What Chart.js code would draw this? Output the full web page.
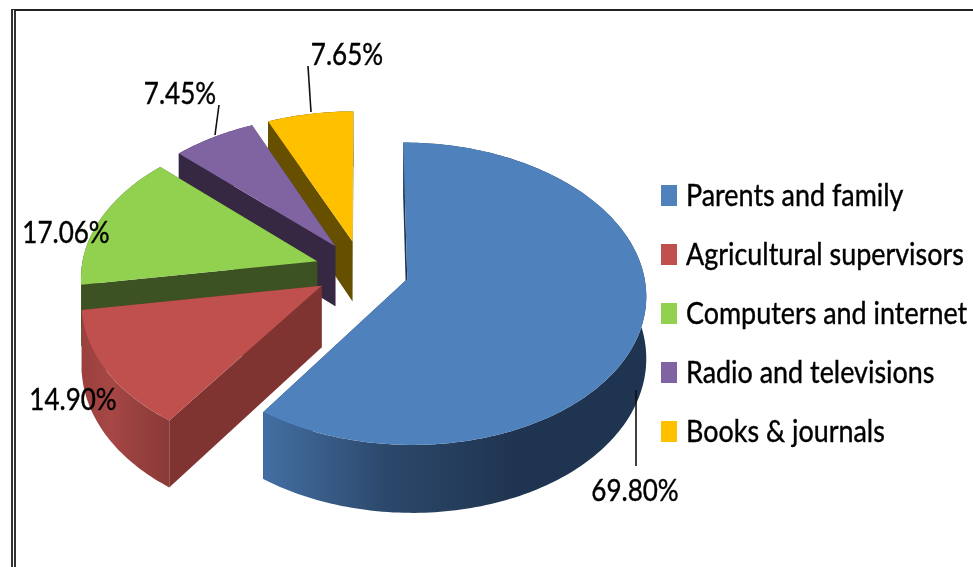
<!DOCTYPE html>
<html>
<head>
<meta charset="utf-8">
<title>Sources of information</title>
<script src="https://cdn.jsdelivr.net/npm/chart.js@4/dist/chart.umd.min.js"></script>
<style>
  html, body { margin: 0; background: #fff; overflow: hidden; }
  .frame { position: absolute; left: 11px; top: 9px; right: 0; bottom: 0; border-top: 2px solid #222; border-left: 5px double #333; }
  canvas { position: absolute; left: 0; top: 0; }
</style>
</head>
<body>
<div class="frame"></div>
<canvas id="chart" width="973" height="567"></canvas>
<script>
const categories = ['Parents and family', 'Agricultural supervisors', 'Computers and internet', 'Radio and televisions', 'Books & journals'];
const percentages = [69.80, 14.90, 17.06, 7.45, 7.65];
const sliceColors = ['#4F81BD', '#C0504D', '#92D050', '#8064A2', '#FFC000'];

// side walls: colour of the cut faces, then left-to-right ramp for the rim
const cutColors = ['#1f3450', '#7f3432', '#3d5222', '#362842', '#665000'];
const rimRamps = [
  ['#436fa3', '#2b4769', '#1f3450', '#1f3450'],
  ['#9a403d', '#a64745', '#96403d', '#8a3a38'],
  ['#3d5222', '#3d5222', '#3d5222', '#3d5222'],
  ['#362842', '#362842', '#362842', '#362842'],
  ['#665000', '#665000', '#665000', '#665000'],
];

// back to front
const paintOrder = [4, 3, 2, 1, 0];

// pie plane seen in perspective
const view = { cx: 362, cy: 270, sx: 236, sy: 148, persp: 0.097, explode: 0.2, depth: 61 };

const textFont = 'Lato, sans-serif';
const textSqueeze = 0.868;
const legendShift = { box: 0, text: 0 };

function project(X, Y) {
  const w = 1 - view.persp * Y;
  return { x: view.cx + view.sx * X / w, y: view.cy + view.sy * Y / w, drop: view.depth / w };
}

function slicePoint(arc, angle, ratio) {
  const mid = (arc.startAngle + arc.endAngle) / 2;
  return project(
    view.explode * Math.cos(mid) + ratio * Math.cos(angle),
    view.explode * Math.sin(mid) + ratio * Math.sin(angle)
  );
}

// lets ArcElement.draw trace its path through the perspective
function withProjectedPath(ctx, arc, paint) {
  const line = CanvasRenderingContext2D.prototype.lineTo;
  const R = arc.outerRadius;
  ctx.arc = function (x, y, r, a, b) {
    if (!(r > 0)) {
      const apex = slicePoint(arc, 0, 0);
      line.call(ctx, apex.x, apex.y);
      return;
    }
    const steps = Math.ceil(Math.abs(b - a) / 0.02);
    for (let i = 0; i <= steps; i++) {
      const p = slicePoint(arc, a + (b - a) * i / steps, r / R);
      line.call(ctx, p.x, p.y);
    }
  };
  ctx.lineTo = function (x, y) {
    if (Number.isNaN(x) || Number.isNaN(y)) return;
    const dx = x - arc.x;
    const dy = y - arc.y;
    const p = slicePoint(arc, Math.atan2(dy, dx), Math.hypot(dx, dy) / R);
    line.call(ctx, p.x, p.y);
  };
  paint();
  delete ctx.arc;
  delete ctx.lineTo;
}

function fillCutFace(ctx, arc, angle, color) {
  const rim = slicePoint(arc, angle, 1);
  const apex = slicePoint(arc, angle, 0);
  ctx.beginPath();
  ctx.moveTo(apex.x, apex.y);
  ctx.lineTo(rim.x, rim.y);
  ctx.lineTo(rim.x, rim.y + rim.drop);
  ctx.lineTo(apex.x, apex.y + apex.drop);
  ctx.closePath();
  ctx.fillStyle = color;
  ctx.fill();
}

function fillRim(ctx, arc, ramp) {
  const steps = Math.ceil((arc.endAngle - arc.startAngle) / 0.02);
  const top = [];
  for (let i = 0; i <= steps; i++) {
    top.push(slicePoint(arc, arc.startAngle + (arc.endAngle - arc.startAngle) * i / steps, 1));
  }
  const xs = top.map((p) => p.x);
  const grad = ctx.createLinearGradient(Math.min(...xs), 0, Math.max(...xs), 0);
  ramp.forEach((c, i) => grad.addColorStop(i / (ramp.length - 1), c));
  ctx.beginPath();
  top.forEach((p, i) => (i ? ctx.lineTo(p.x, p.y) : ctx.moveTo(p.x, p.y)));
  top.slice().reverse().forEach((p) => ctx.lineTo(p.x, p.y + p.drop));
  ctx.closePath();
  ctx.fillStyle = grad;
  ctx.fill();
}

const solidPie = {
  id: 'solidPie',
  beforeDatasetsDraw(chart) {
    const ctx = chart.ctx;
    const arcs = chart.getDatasetMeta(0).data;
    paintOrder.forEach((i) => {
      const arc = arcs[i];
      fillCutFace(ctx, arc, arc.startAngle, cutColors[i]);
      fillCutFace(ctx, arc, arc.endAngle, cutColors[i]);
      fillRim(ctx, arc, rimRamps[i]);
      withProjectedPath(ctx, arc, () => arc.draw(ctx));
    });
    return false;
  },
};

function drawSqueezedText(ctx, text, x, y) {
  ctx.save();
  ctx.translate(x, y);
  ctx.scale(textSqueeze, 1);
  ctx.strokeStyle = '#000';
  ctx.lineWidth = 0.4;
  ctx.strokeText(text, 0, 0);
  CanvasRenderingContext2D.prototype.fillText.call(ctx, text, 0, 0);
  ctx.restore();
}

// condensed legend text; the box and text start are pinned to fixed x positions
const legendText = {
  id: 'legendText',
  beforeDraw(chart) {
    const legend = chart.legend;
    if (legend.condensed) return;
    legend.condensed = true;
    const draw = legend.draw;
    legend.draw = function (area) {
      const ctx = chart.ctx;
      const boxLeft = this.left + this.options.labels.padding;
      legendShift.box = 661 - boxLeft;
      legendShift.text = 686 - (boxLeft + this.options.labels.boxWidth + this.options.labels.font.size / 2);
      ctx.save();
      ctx.translate(legendShift.box, 0);
      ctx.fillText = (text, x, y) => drawSqueezedText(ctx, text, x + legendShift.text - legendShift.box, y);
      draw.call(this, area);
      delete ctx.fillText;
      ctx.restore();
    };
  },
};

// value labels and their leader lines
const labelSpots = [
  { x: 635, y: 491, from: [636, 390], to: [636, 466] },
  { x: 73, y: 400 },
  { x: 66, y: 233 },
  { x: 180, y: 94, from: [219, 105], to: [215, 135] },
  { x: 347, y: 55, from: [308, 66], to: [311, 112] },
];

const valueLabels = {
  id: 'valueLabels',
  afterDraw(chart) {
    const ctx = chart.ctx;
    ctx.save();
    ctx.font = '30px ' + textFont;
    ctx.textAlign = 'center';
    ctx.textBaseline = 'middle';
    labelSpots.forEach((spot, i) => {
      if (spot.from) {
        ctx.beginPath();
        ctx.moveTo(...spot.from);
        ctx.lineTo(...spot.to);
        ctx.strokeStyle = '#111';
        ctx.lineWidth = 1.6;
        ctx.stroke();
      }
      ctx.fillStyle = '#000';
      drawSqueezedText(ctx, percentages[i].toFixed(2) + '%', spot.x, spot.y);
    });
    ctx.restore();
  },
};

new Chart(document.getElementById('chart'), {
  type: 'pie',
  data: {
    labels: categories,
    datasets: [{ data: percentages, backgroundColor: sliceColors, borderWidth: 0, radius: 238 }],
  },
  options: {
    responsive: false,
    animation: false,
    layout: { padding: { top: 60, right: 0 } },
    plugins: {
      tooltip: { enabled: false },
      legend: {
        position: 'right',
        labels: {
          color: '#000',
          font: { family: textFont, size: 31 },
          boxWidth: 16,
          boxHeight: 21,
          padding: 28,
        },
      },
    },
  },
  plugins: [solidPie, legendText, valueLabels],
});
</script>
</body>
</html>
